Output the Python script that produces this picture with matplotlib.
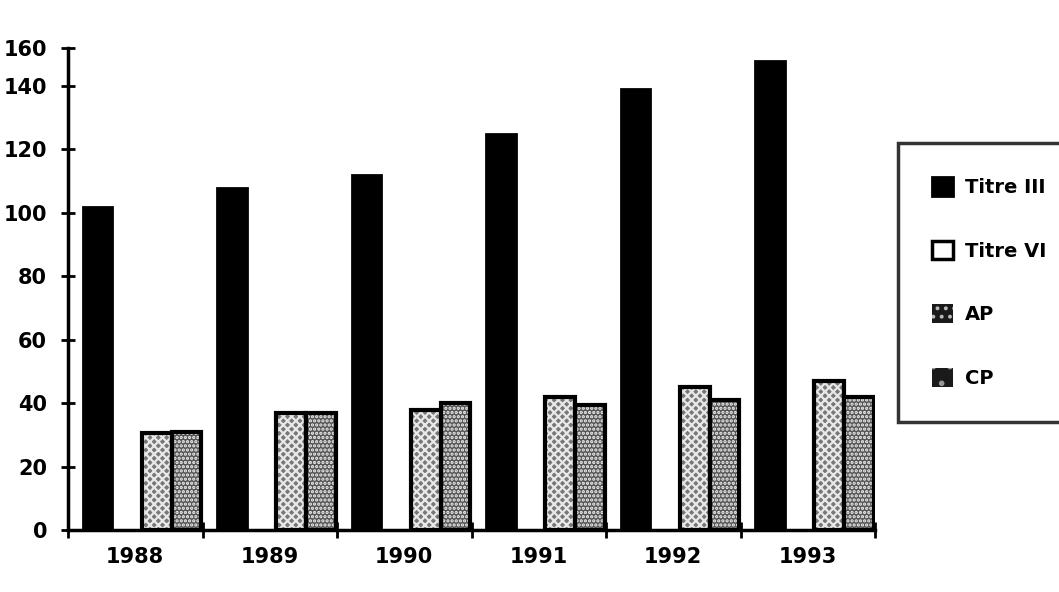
import matplotlib.pyplot as plt
import numpy as np
from matplotlib.patches import Patch

years = ["1988", "1989", "1990", "1991", "1992", "1993"]
series = ["Titre III", "Titre VI", "AP", "CP"]
titre_iii = [102, 108, 112, 125, 139, 148]
titre_vi = [0, 0, 0, 0, 0, 0]
ap = [30.5, 37, 38, 42, 45, 47]
cp = [31, 37, 40, 39.5, 41, 42]
y_ticks = [0, 20, 40, 60, 80, 100, 120, 140]

plt.rcParams["font.family"] = "DejaVu Sans"
plt.rcParams["font.weight"] = "bold"
plt.rcParams["hatch.linewidth"] = 1.6

fig = plt.figure(figsize=(10.59, 5.92), dpi=100)
ax = fig.add_axes([68 / 1059, 62 / 592, (875 - 68) / 1059, (530 - 48) / 592])

x = np.arange(len(years))
w = 0.22
offsets = [-0.28, -0.06, 0.16, 0.38]

# solid and hollow series
ax.bar(x + offsets[0], titre_iii, w, color="black", edgecolor="black", linewidth=2)
ax.bar(x + offsets[1], titre_vi, w, color="white", edgecolor="black", linewidth=2)

# stippled series: hatch layer then black outline
ax.bar(x + offsets[2], ap, w, color="#777777", edgecolor="#e8e8e8", hatch="xxxx", linewidth=0)
ax.bar(x + offsets[2], ap, w, fill=False, edgecolor="black", linewidth=3)
ax.bar(x + offsets[3], cp, w, color="#555555", edgecolor="#f2f2f2", hatch="....", linewidth=0)
ax.bar(x + offsets[3], cp, w, fill=False, edgecolor="black", linewidth=3)

# axis runs a little past 150; the top end carries the 160 mark
top = 152
ax.set_xlim(-0.5, len(years) - 0.5)
ax.set_ylim(0, top)
ax.set_yticks(y_ticks + [top])
ax.set_yticklabels([str(v) for v in y_ticks] + ["160"])
ax.set_xticks(np.arange(len(years) + 1) - 0.5)
ax.set_xticklabels([])
ax.set_xticks(x, minor=True)
ax.set_xticklabels(years, minor=True, fontsize=15, fontweight="bold")
ax.tick_params(axis="x", which="minor", length=0, pad=12)
ax.tick_params(axis="x", which="major", direction="inout", length=12, width=2)
ax.tick_params(axis="y", direction="inout", length=10, width=2, labelsize=15, pad=10)
for lab in ax.get_yticklabels():
    lab.set_fontweight("bold")

for side in ["top", "right"]:
    ax.spines[side].set_visible(False)
for side in ["left", "bottom"]:
    ax.spines[side].set_linewidth(2.5)

handles = [
    Patch(facecolor="black", edgecolor="black", linewidth=2),
    Patch(facecolor="white", edgecolor="black", linewidth=2.5),
    Patch(facecolor="#1a1a1a", edgecolor="#bbbbbb", hatch="..", linewidth=0),
    Patch(facecolor="#1a1a1a", edgecolor="#999999", hatch=".", linewidth=0),
]
leg = fig.legend(handles, series, loc="upper left",
                 bbox_to_anchor=(898 / 1059, 1 - 143 / 592),
                 frameon=True, fancybox=False, edgecolor="black",
                 prop={"weight": "bold", "size": 14},
                 handlelength=1.1, handleheight=1.1, handletextpad=0.6,
                 labelspacing=2.25, borderpad=1.75, borderaxespad=0)
leg.get_frame().set_linewidth(2.5)

fig.savefig("out.png", dpi=100)
